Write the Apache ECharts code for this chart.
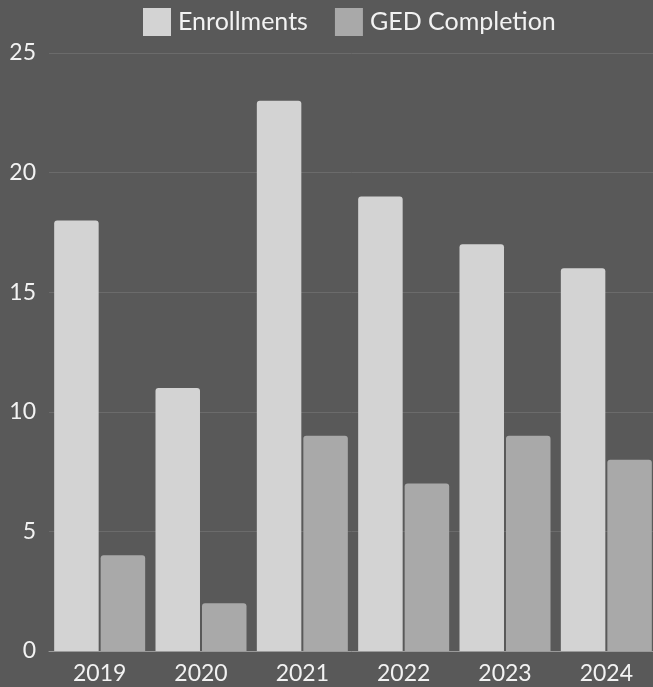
<!DOCTYPE html>
<html><head><meta charset="utf-8">
<script src="https://cdn.jsdelivr.net/npm/echarts@6/dist/echarts.min.js"></script>
<style>html,body{margin:0;padding:0;background:#595959;}#c{width:653px;height:687px;}</style>
</head><body><div id="c"></div>
<script>
const categories = ['2019','2020','2021','2022','2023','2024'];
const enrollments = [18, 11, 23, 19, 17, 16];
const gedCompletion = [4, 2, 9, 7, 9, 8];
const yTicks = [0, 5, 10, 15, 20, 25];

const chart = echarts.init(document.getElementById('c'));
const font = 'Lato';
chart.setOption({
  backgroundColor: '#595959',
  textStyle: { fontFamily: font },
  legend: {
    top: 8, left: 143, padding: 0, itemWidth: 28, itemHeight: 28, itemGap: 27,
    icon: 'rect',
    textStyle: { color: '#f2f2f2', fontSize: 25, fontFamily: font, padding: [0,0,0,2] },
    data: ['Enrollments', 'GED Completion']
  },
  grid: { left: 49, top: 53, width: 608, bottom: 36, containLabel: false, outerBoundsMode: 'none' },
  xAxis: {
    type: 'category', data: categories,
    axisLine: { lineStyle: { color: '#9a9a9a', width: 1 } },
    axisTick: { show: false },
    axisLabel: { color: '#f2f2f2', fontSize: 23, fontFamily: font, margin: 11 }
  },
  yAxis: {
    type: 'value', min: 0, max: 25, interval: 5,
    axisLine: { show: false }, axisTick: { show: false },
    splitLine: { lineStyle: { color: '#6b6b6b', width: 1 } },
    axisLabel: { color: '#f2f2f2', fontSize: 23, fontFamily: font, margin: 13,
      formatter: v => yTicks.includes(v) ? String(v) : '' }
  },
  series: [
    { name: 'Enrollments', type: 'bar', data: enrollments, barWidth: 44.5, barGap: '4.5%',
      itemStyle: { color: '#d3d3d3', borderRadius: [3,3,0,0] } },
    { name: 'GED Completion', type: 'bar', data: gedCompletion, barWidth: 44.5,
      itemStyle: { color: '#a9a9a9', borderRadius: [3,3,0,0] } }
  ]
});
</script></body></html>
